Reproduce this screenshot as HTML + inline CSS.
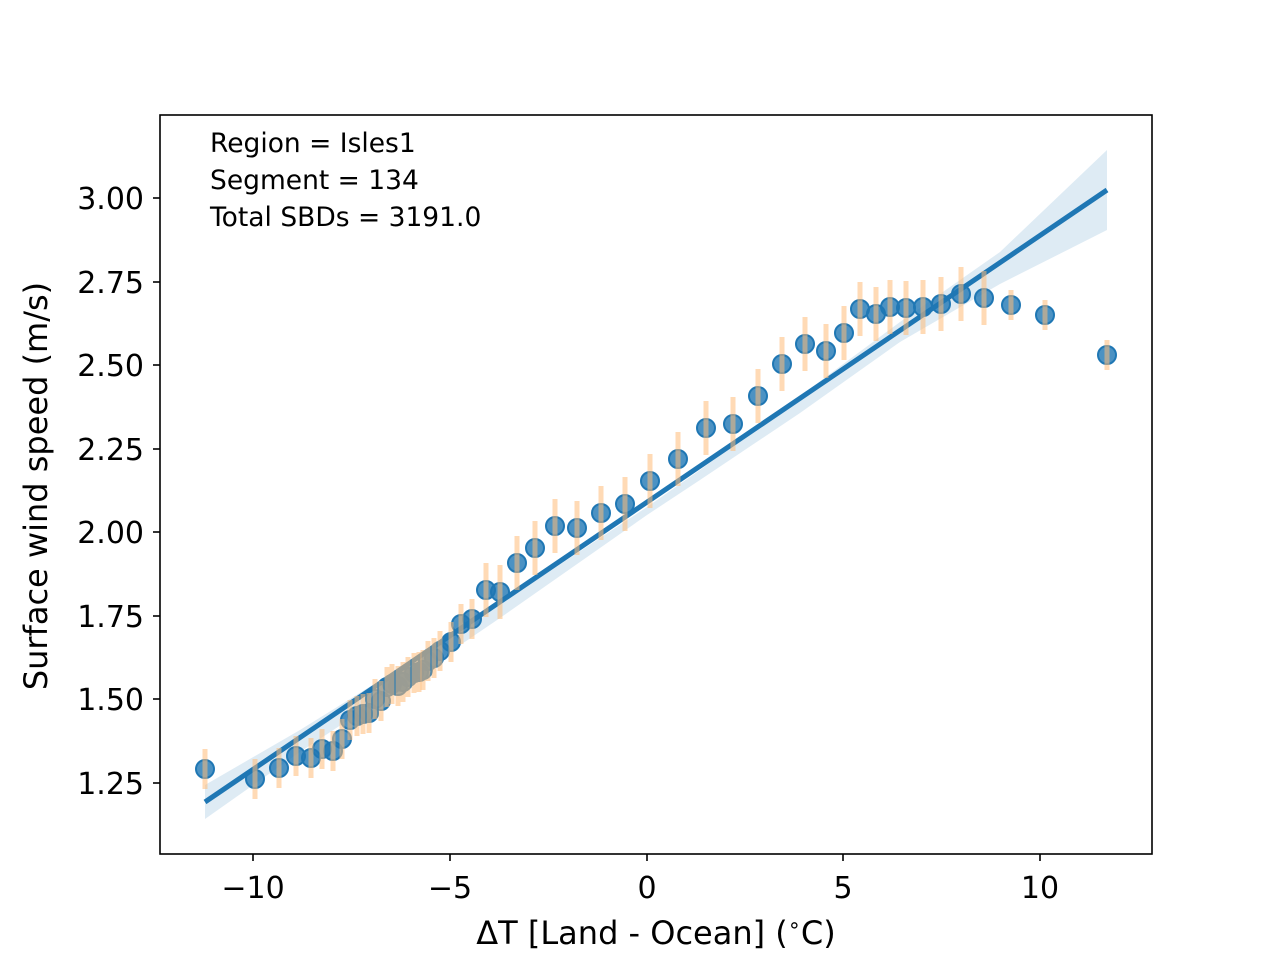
<!DOCTYPE html>
<html><head><meta charset="utf-8"><style>body{margin:0;background:#fff}svg{display:block}</style></head><body>
<svg width="1280" height="960" xmlns="http://www.w3.org/2000/svg" font-family="DejaVu Sans, sans-serif">
<rect width="1280" height="960" fill="#fff"/>
<polygon points="205,785 300,730 400,668 500,604 600,538 647,507 700,470 800,396 900,322 1000,252 1107,150 1107,230 1000,284 900,342 800,413 700,480 647,515 600,548 500,618 400,686 300,752 205,819" fill="#1f77b4" fill-opacity="0.15"/>
<line x1="205" y1="802" x2="1107" y2="190" stroke="#1f77b4" stroke-width="5"/>
<g fill="#1f77b4" fill-opacity="0.8" stroke="#1f77b4" stroke-width="2" id="pts"></g>
<g stroke="#ffbb78" stroke-opacity="0.55" stroke-width="5" id="eb"></g>
<rect x="160" y="115" width="992" height="739" fill="none" stroke="#000" stroke-width="1.6"/>
<g stroke="#000" stroke-width="1.6">
<line x1="253" y1="854" x2="253" y2="861"/><line x1="450" y1="854" x2="450" y2="861"/><line x1="647" y1="854" x2="647" y2="861"/><line x1="843" y1="854" x2="843" y2="861"/><line x1="1040" y1="854" x2="1040" y2="861"/>
<line x1="153" y1="198" x2="160" y2="198"/><line x1="153" y1="282" x2="160" y2="282"/><line x1="153" y1="365" x2="160" y2="365"/><line x1="153" y1="449" x2="160" y2="449"/><line x1="153" y1="532" x2="160" y2="532"/><line x1="153" y1="616" x2="160" y2="616"/><line x1="153" y1="699" x2="160" y2="699"/><line x1="153" y1="783" x2="160" y2="783"/>
</g>
<g font-size="30" text-anchor="middle" fill="#000">
<text x="253" y="898">−10</text><text x="450" y="898">−5</text><text x="647" y="898">0</text><text x="843" y="898">5</text><text x="1040" y="898">10</text>
</g>
<g font-size="30" text-anchor="end" fill="#000">
<text x="144" y="209">3.00</text><text x="144" y="293">2.75</text><text x="144" y="376">2.50</text><text x="144" y="460">2.25</text><text x="144" y="543">2.00</text><text x="144" y="627">1.75</text><text x="144" y="710">1.50</text><text x="144" y="794">1.25</text>
</g>
<text x="656" y="944" font-size="32" text-anchor="middle">ΔT [Land - Ocean] (<tspan font-size="21" dy="-12">∘</tspan><tspan dy="12">C)</tspan></text>
<text transform="translate(47,486) rotate(-90)" font-size="32" text-anchor="middle">Surface wind speed (m/s)</text>
<g font-size="26.5"><text x="210" y="152">Region = Isles1</text><text x="210" y="189">Segment = 134</text><text x="210" y="226">Total SBDs = 3191.0</text></g>
<script>
var p=[[205,769],[255,779],[279,768],[296,756],[311,758],[322,749],[333,751],[342,739],[350,720],[357,716],[363,714],[369,713],[375,699],[381,701],[387,687],[392,684],[398,686],[403,682],[408,677],[414,673],[419,672],[423,670],[428,661],[434,658],[440,651],[451,642],[461,624],[472,619],[486,590],[500,592],[517,563],[535,548],[555,526],[577,528],[601,513],[625,504],[650,481],[678,459],[706,428],[733,424],[758,396],[782,364],[805,344],[826,351],[844,333],[860,309],[876,314],[890,307],[906,308],[923,307],[941,304],[961,294],[984,298],[1011,305],[1045,315],[1107,355]];
var ns="http://www.w3.org/2000/svg",eb=document.getElementById('eb'),pt=document.getElementById('pts');
p.forEach(function(a){var h=a[0]<480?20:(a[0]>1000?15:27);var l=document.createElementNS(ns,'line');l.setAttribute('x1',a[0]);l.setAttribute('x2',a[0]);l.setAttribute('y1',a[1]-h);l.setAttribute('y2',a[1]+h);eb.appendChild(l);
var c=document.createElementNS(ns,'circle');c.setAttribute('cx',a[0]);c.setAttribute('cy',a[1]);c.setAttribute('r',9);pt.appendChild(c);});
</script>
</svg>
</body></html>
